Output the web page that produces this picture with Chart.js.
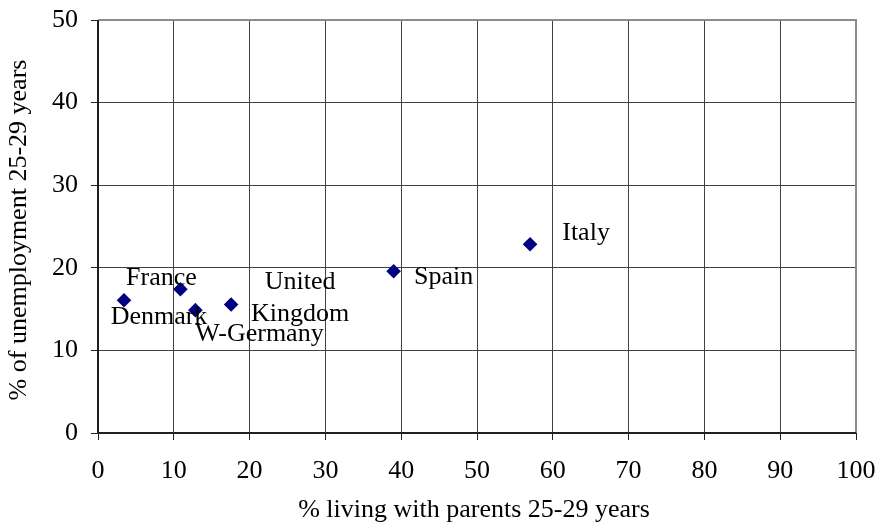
<!DOCTYPE html>
<html>
<head>
<meta charset="utf-8">
<script src="https://cdn.jsdelivr.net/npm/chart.js@4.4.0/dist/chart.umd.min.js"></script>
<style>
html,body{margin:0;padding:0;background:#fff;}
#wrap{width:879px;height:528px;position:relative;}
</style>
</head>
<body>
<div id="wrap"><canvas id="c" width="879" height="528"></canvas></div>
<script>
const countries = ["Denmark", "France", "W-Germany", "United Kingdom", "Spain", "Italy"];
const livingWithParents = [3.43, 10.87, 12.85, 17.56, 39.0, 57.0];
const unemployment = [16.08, 17.4, 14.87, 15.56, 19.59, 22.86];
const labelLines = [["Denmark"], ["France"], ["W-Germany"], ["United", "Kingdom"], ["Spain"], ["Italy"]];
const labelOffsets = [[35, 17], [-19, -11], [64, 24], [69, -22, 10], [50, 6], [56, -11]];
const xTitle = "% living with parents 25-29 years";
const yTitle = "% of unemployment 25-29 years";

const FONT = "'Liberation Serif', 'Times New Roman', serif";
const FS = 26;
const TITLE_FS = 26;

const points = livingWithParents.map((x, i) => ({x: x, y: unemployment[i]}));

const decor = {
  id: 'decor',
  afterDatasetsDraw(chart) {
    const ctx = chart.ctx;
    const a = chart.chartArea;
    ctx.save();
    ctx.strokeStyle = '#8c8c8c';
    ctx.lineWidth = 2;
    ctx.beginPath();
    ctx.moveTo(a.left, a.top);
    ctx.lineTo(a.right, a.top);
    ctx.lineTo(a.right, a.bottom);
    ctx.stroke();
    ctx.strokeStyle = '#202020';
    ctx.beginPath();
    ctx.moveTo(a.left, a.top);
    ctx.lineTo(a.left, a.bottom);
    ctx.lineTo(a.right, a.bottom);
    ctx.stroke();
    const meta = chart.getDatasetMeta(0);
    ctx.fillStyle = '#000';
    ctx.font = FS + 'px ' + FONT;
    ctx.textAlign = 'center';
    ctx.textBaseline = 'middle';
    meta.data.forEach((pt, i) => {
      const off = labelOffsets[i];
      labelLines[i].forEach((ln, j) => {
        ctx.fillText(ln, pt.x + off[0], pt.y + off[1 + j]);
      });
    });
    ctx.font = TITLE_FS + 'px ' + FONT;
    ctx.fillText(xTitle, 474, 510);
    ctx.save();
    ctx.translate(19, 230);
    ctx.rotate(-Math.PI / 2);
    ctx.fillText(yTitle, 0, 0);
    ctx.restore();
    ctx.restore();
  }
};

function zeroPad(s) { s.paddingTop = 0; s.paddingBottom = 0; s.paddingLeft = 0; s.paddingRight = 0; }

new Chart(document.getElementById('c'), {
  type: 'scatter',
  data: {
    datasets: [{
      label: 'countries',
      data: points,
      pointStyle: 'rectRot',
      pointRadius: 7.3,
      pointHoverRadius: 7.3,
      backgroundColor: '#000080',
      borderColor: '#000080',
      borderWidth: 0
    }]
  },
  options: {
    responsive: false,
    animation: false,
    devicePixelRatio: 1,
    layout: {padding: {left: 0, right: 23, top: 20, bottom: 0}},
    plugins: {legend: {display: false}, tooltip: {enabled: false}},
    scales: {
      x: {
        type: 'linear',
        min: 0, max: 100,
        ticks: {stepSize: 10, color: '#000', font: {family: FONT, size: FS}, padding: 16, maxRotation: 0, autoSkip: false},
        grid: {color: '#404040', lineWidth: 1, tickLength: 7, tickColor: '#202020', drawTicks: true},
        border: {display: false},
        afterFit(s) { s.height = 95; zeroPad(s); }
      },
      y: {
        type: 'linear',
        min: 0, max: 50,
        ticks: {stepSize: 10, color: '#000', font: {family: FONT, size: FS}, padding: 13, autoSkip: false},
        grid: {color: '#404040', lineWidth: 1, tickLength: 7, tickColor: '#202020', drawTicks: true},
        border: {display: false},
        afterFit(s) { s.width = 98; zeroPad(s); }
      }
    }
  },
  plugins: [decor]
});
</script>
</body>
</html>
